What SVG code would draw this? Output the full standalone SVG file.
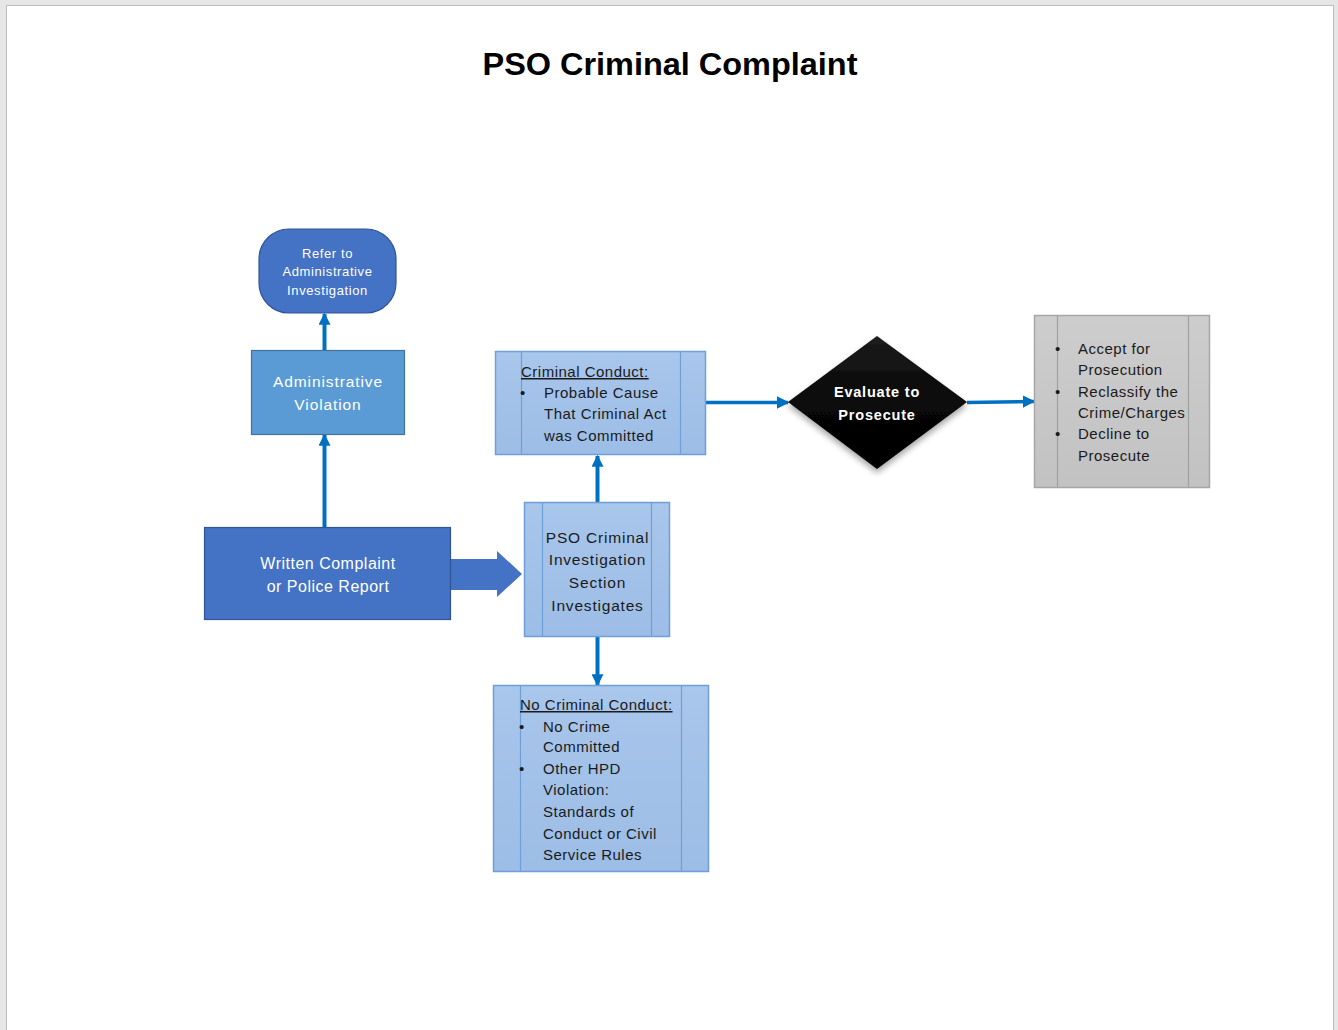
<svg xmlns="http://www.w3.org/2000/svg" width="1338" height="1030" viewBox="0 0 1338 1030">
<defs>
<style>
.t{font-family:"Liberation Sans",Arial,sans-serif;}
.w{fill:#ffffff;}
.d{fill:#1a1a1a;}
.b{letter-spacing:0.5px;}
.conn{stroke:#0070C0;fill:none;}
.lb{fill:url(#lbg);stroke:#6E9FD8;stroke-width:1.5;}
.inner{stroke:#6E9FD8;stroke-width:1.2;}
.gi{stroke:#A0A0A0;stroke-width:1.2;}
</style>
<linearGradient id="lbg" x1="0" y1="0" x2="0" y2="1">
<stop offset="0" stop-color="#A9C6EB"/>
<stop offset="1" stop-color="#9CBDE6"/>
</linearGradient>
<linearGradient id="gg" x1="0" y1="0" x2="0" y2="1">
<stop offset="0" stop-color="#CDCDCD"/>
<stop offset="1" stop-color="#C2C2C2"/>
</linearGradient>
<linearGradient id="dg" x1="0" y1="0" x2="0" y2="1">
<stop offset="0" stop-color="#1c1c1c"/>
<stop offset="0.5" stop-color="#080808"/>
<stop offset="1" stop-color="#000000"/>
</linearGradient>
<filter id="sh" x="-20%" y="-20%" width="140%" height="150%">
<feGaussianBlur in="SourceAlpha" stdDeviation="3"/>
<feOffset dx="0" dy="4"/>
<feComponentTransfer><feFuncA type="linear" slope="0.35"/></feComponentTransfer>
<feMerge><feMergeNode/><feMergeNode in="SourceGraphic"/></feMerge>
</filter>
<marker id="ah" viewBox="0 0 10 10" refX="9" refY="5" markerWidth="3" markerHeight="3" orient="auto" markerUnits="strokeWidth">
<path d="M0,0 L10,5 L0,10 z" fill="#0070C0"/>
</marker>
<marker id="ah2" viewBox="0 0 10 10" refX="9" refY="5" markerWidth="3.6" markerHeight="3.6" orient="auto" markerUnits="strokeWidth">
<path d="M0,0 L10,5 L0,10 z" fill="#0070C0"/>
</marker>
</defs>

<!-- page background -->
<rect x="0" y="0" width="1338" height="1030" fill="#E6E6E6"/>
<rect x="6" y="5" width="1328" height="1030" fill="#BDBDBD"/>
<rect x="7" y="6" width="1326" height="1030" fill="#FFFFFF"/>

<text class="t" x="670" y="75" text-anchor="middle" font-size="31" font-weight="bold" fill="#000" textLength="375" lengthAdjust="spacingAndGlyphs">PSO Criminal Complaint</text>

<g id="connectors">
<line class="conn" x1="324.5" y1="350" x2="324.5" y2="314" stroke-width="4" marker-end="url(#ah)"/>
<line class="conn" x1="324.5" y1="527" x2="324.5" y2="435" stroke-width="4" marker-end="url(#ah)"/>
<line class="conn" x1="597.5" y1="502" x2="597.5" y2="456" stroke-width="4" marker-end="url(#ah)"/>
<line class="conn" x1="597.5" y1="636" x2="597.5" y2="685" stroke-width="4" marker-end="url(#ah)"/>
<line class="conn" x1="706" y1="402.5" x2="788" y2="402.5" stroke-width="3.5" marker-end="url(#ah2)"/>
<line class="conn" x1="967" y1="402.5" x2="1034" y2="401.5" stroke-width="3.5" marker-end="url(#ah2)"/>
<path id="block-arrow" d="M451,559 L497,559 L497,551 L522,574 L497,597 L497,590 L451,590 Z" fill="#4472C4"/>
</g>

<g id="refer">
<rect x="259" y="229" width="137" height="84" rx="30" ry="30" fill="#4472C4" stroke="#2F5597" stroke-width="1.2"/>
<text class="t w" text-anchor="middle" font-size="13" letter-spacing="0.6"><tspan x="327.5" y="258">Refer to</tspan><tspan x="327.5" y="276">Administrative</tspan><tspan x="327.5" y="295">Investigation</tspan></text>
</g>

<g id="admin-violation">
<rect x="251.5" y="350.5" width="153" height="84" fill="#5B9BD5" stroke="#41719C" stroke-width="1.2"/>
<text class="t w" text-anchor="middle" font-size="15.5" letter-spacing="0.9"><tspan x="328" y="387">Administrative</tspan><tspan x="328" y="410">Violation</tspan></text>
</g>

<g id="written-complaint">
<rect x="204.5" y="527.5" width="246" height="92" fill="#4472C4" stroke="#2F5597" stroke-width="1.2"/>
<text class="t w" text-anchor="middle" font-size="16" letter-spacing="0.5"><tspan x="328" y="569">Written Complaint</tspan><tspan x="328" y="592">or Police Report</tspan></text>
</g>

<g id="pso-investigates">
<rect class="lb" x="524.5" y="502.5" width="145" height="134"/>
<line class="inner" x1="542.5" y1="503" x2="542.5" y2="636"/>
<line class="inner" x1="651.5" y1="503" x2="651.5" y2="636"/>
<text class="t d" text-anchor="middle" font-size="15.5" letter-spacing="0.8"><tspan x="597.5" y="543">PSO Criminal</tspan><tspan x="597.5" y="565">Investigation</tspan><tspan x="597.5" y="588">Section</tspan><tspan x="597.5" y="611">Investigates</tspan></text>
</g>

<g id="criminal-conduct">
<rect class="lb" x="495.5" y="351.5" width="210" height="103"/>
<line class="inner" x1="521.5" y1="352" x2="521.5" y2="454"/>
<line class="inner" x1="680.5" y1="352" x2="680.5" y2="454"/>
<text class="t d b" x="521" y="377" font-size="15" text-decoration="underline">Criminal Conduct:</text>
<text class="t d b" font-size="15"><tspan x="520" y="398">•</tspan><tspan x="544" y="398">Probable Cause</tspan><tspan x="544" y="419">That Criminal Act</tspan><tspan x="544" y="441">was Committed</tspan></text>
</g>

<g id="evaluate">
<polygon points="877,336 967,402 877,469 788,402" fill="url(#dg)" filter="url(#sh)"/>
<text class="t w" text-anchor="middle" font-size="14.5" font-weight="bold" letter-spacing="0.8"><tspan x="877" y="397">Evaluate to</tspan><tspan x="877" y="420">Prosecute</tspan></text>
</g>

<g id="outcomes">
<rect x="1034.5" y="315.5" width="175" height="172" fill="url(#gg)" stroke="#A6A6A6" stroke-width="1.5"/>
<line class="gi" x1="1057.5" y1="316" x2="1057.5" y2="487"/>
<line class="gi" x1="1188.5" y1="316" x2="1188.5" y2="487"/>
<text class="t d b" font-size="15"><tspan x="1055" y="354">•</tspan><tspan x="1078" y="354">Accept for</tspan><tspan x="1078" y="375">Prosecution</tspan><tspan x="1055" y="397">•</tspan><tspan x="1078" y="397">Reclassify the</tspan><tspan x="1078" y="418">Crime/Charges</tspan><tspan x="1055" y="439">•</tspan><tspan x="1078" y="439">Decline to</tspan><tspan x="1078" y="461">Prosecute</tspan></text>
</g>

<g id="no-criminal-conduct">
<rect class="lb" x="493.5" y="685.5" width="215" height="186"/>
<line class="inner" x1="520.5" y1="686" x2="520.5" y2="871"/>
<line class="inner" x1="681.5" y1="686" x2="681.5" y2="871"/>
<text class="t d b" x="520" y="710" font-size="15" text-decoration="underline">No Criminal Conduct:</text>
<text class="t d b" font-size="15"><tspan x="519" y="732">•</tspan><tspan x="543" y="732">No Crime</tspan><tspan x="543" y="752">Committed</tspan><tspan x="519" y="774">•</tspan><tspan x="543" y="774">Other HPD</tspan><tspan x="543" y="795">Violation:</tspan><tspan x="543" y="817">Standards of</tspan><tspan x="543" y="839">Conduct or Civil</tspan><tspan x="543" y="860">Service Rules</tspan></text>
</g>
</svg>
